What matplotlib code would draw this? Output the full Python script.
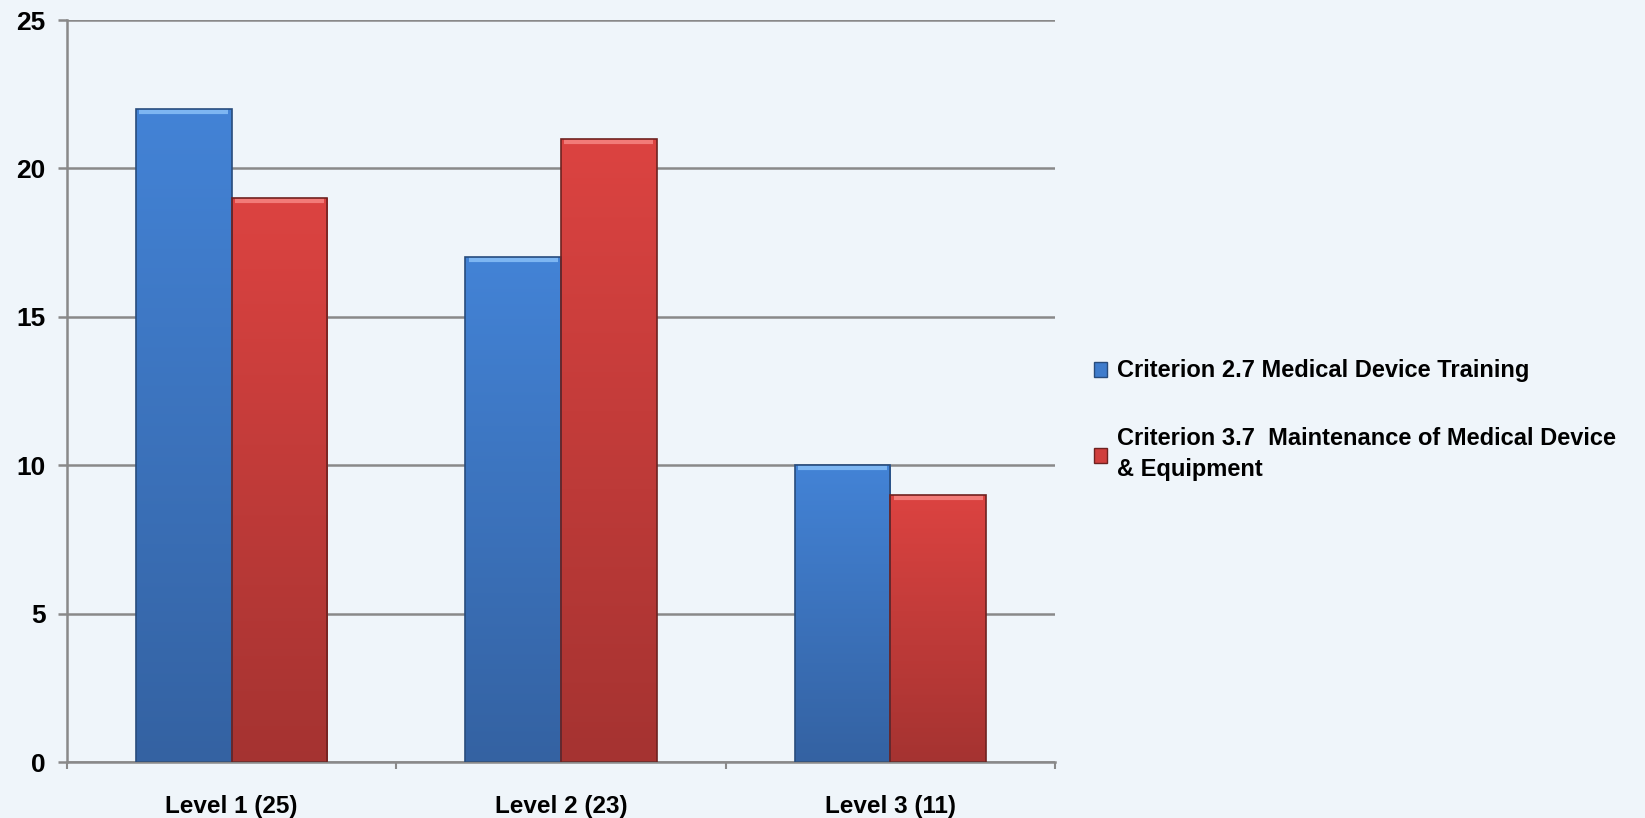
import numpy as np
import matplotlib
matplotlib.use('Agg')
import matplotlib.pyplot as plt
from matplotlib.colors import LinearSegmentedColormap
from matplotlib.patches import Patch

categories = ["Level 1 (25)", "Level 2 (23)", "Level 3 (11)"]
training = [22, 17, 10]
maintenance = [19, 21, 9]
series_names = ["Criterion 2.7 Medical Device Training",
                "Criterion 3.7  Maintenance of Medical Device\n& Equipment"]

plt.rcParams['font.family'] = ['Liberation Sans', 'DejaVu Sans']
plt.rcParams['font.weight'] = 'bold'

bg = '#eff5fa'
grid_c = '#898989'
fig = plt.figure(figsize=(16.45, 8.18), dpi=100, facecolor=bg)
ax = fig.add_axes([67 / 1645, 1 - 762 / 818, (1055 - 67) / 1645, (762 - 20) / 818])
ax.set_facecolor(bg)

x = np.arange(len(categories))
w = 0.29
blue = LinearSegmentedColormap.from_list('blue', ['#3462a2', '#4383d6'])
red = LinearSegmentedColormap.from_list('red', ['#a53331', '#dc4341'])
grad = np.linspace(0, 1, 256).reshape(-1, 1)

series = [(-w / 2, training, blue, '#284c7c', '#7db6f2'),
          (w / 2, maintenance, red, '#6e2220', '#f27b78')]
for offs, vals, cmap, edge, light in series:
    bars = ax.bar(x + offs, vals, w, color='none', edgecolor=edge, lw=1.2, zorder=3)
    for b in bars:
        x0, bw, bh = b.get_x(), b.get_width(), b.get_height()
        im = ax.imshow(grad, cmap=cmap, origin='lower', aspect='auto',
                       extent=[x0, x0 + bw, 0, bh], zorder=2)
        im.set_clip_path(b)
        # light bevel along the top edge
        ax.plot([x0 + 0.01, x0 + bw - 0.01], [bh - 0.1, bh - 0.1], color=light, lw=3, zorder=4,
                solid_capstyle='butt')

ax.set_xlim(-0.5, 2.5)
ax.set_ylim(0, 25)
ax.set_yticks(np.arange(0, 26, 5))
ax.yaxis.grid(True, color=grid_c, lw=1.8, zorder=0)
ax.set_axisbelow(True)

for s in ['top', 'right']:
    ax.spines[s].set_visible(False)
for s in ['left', 'bottom']:
    ax.spines[s].set_color(grid_c)
    ax.spines[s].set_linewidth(1.8)

ax.tick_params(axis='y', length=6.5, width=1.8, color=grid_c, pad=9, labelsize=19)
ax.set_xticks(x)
ax.set_xticklabels(categories)
ax.set_xticks([-0.5, 0.5, 1.5, 2.5], minor=True)
ax.tick_params(axis='x', which='major', length=0, pad=24, labelsize=17.5)
ax.tick_params(axis='x', which='minor', length=5, width=1.5, color=grid_c)

handles = [Patch(facecolor='#3f7ccc', edgecolor='#284c7c'),
           Patch(facecolor='#d03f3d', edgecolor='#6e2220')]
leg = fig.legend(handles, series_names, loc='upper left',
                 bbox_to_anchor=(1085 / 1645, 1 - 350 / 818), frameon=False,
                 fontsize=17, handlelength=0.55, handleheight=0.6, handletextpad=0.4,
                 labelspacing=1.9, borderaxespad=0)
for t in leg.get_texts():
    t.set_linespacing(1.45)

fig.savefig('out.png', dpi=100, facecolor=bg)
